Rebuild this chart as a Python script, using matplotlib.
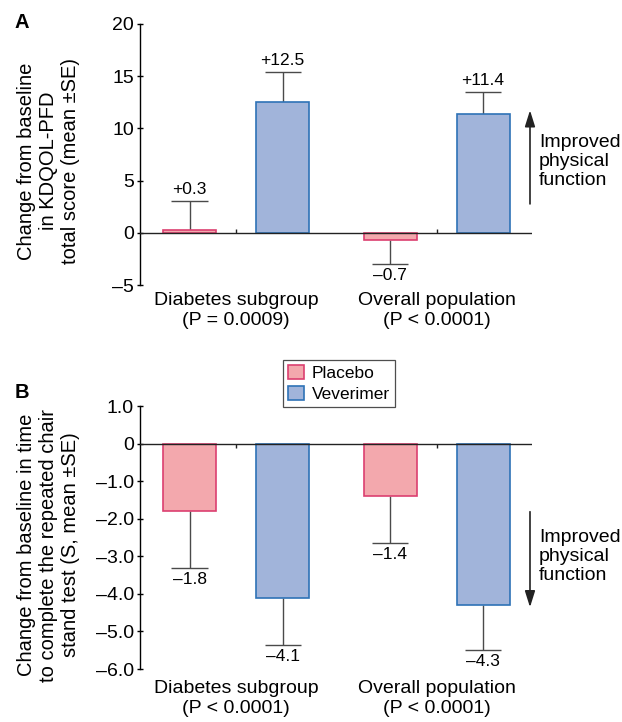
import numpy as np
import matplotlib
matplotlib.use('Agg')
import matplotlib.pyplot as plt
from matplotlib.patches import Patch

plt.rcParams['font.family'] = ['Liberation Sans', 'DejaVu Sans']
plt.rcParams['font.size'] = 14

groups_a = ['Diabetes subgroup\n(P = 0.0009)', 'Overall population\n(P < 0.0001)']
groups_b = ['Diabetes subgroup\n(P < 0.0001)', 'Overall population\n(P < 0.0001)']

# panel A: KDQOL-PFD change
placebo_a = [0.3, -0.7]
placebo_a_se = [2.75, 2.3]
veverimer_a = [12.5, 11.4]
veverimer_a_se = [2.9, 2.1]

# panel B: repeated chair stand test change
placebo_b = [-1.8, -1.4]
placebo_b_se = [1.5, 1.25]
veverimer_b = [-4.1, -4.3]
veverimer_b_se = [1.27, 1.2]

pink_fill, pink_edge = '#F3A8AD', '#DC3F70'
blue_fill, blue_edge = '#A1B4DA', '#2E72B6'
err_col = '#4a4a4a'
fs = 14
fs_val = 12.5

fig = plt.figure(figsize=(6.22, 7.22), dpi=100)

W, H = 622, 722
def px_axes(left, top, right, bottom):
    return fig.add_axes([left / W, 1 - bottom / H, (right - left) / W, (bottom - top) / H])

ax_a = px_axes(140, 24, 532, 285)
ax_b = px_axes(140, 406, 532, 669)

x = np.arange(2)
off = 0.232
width = 0.264
cap = 0.09


def draw_panel(ax, pl, pl_se, vv, vv_se, labels, ylim, yticks, yticklabels, tick_len, pad):
    for vals, ses, shift, fc, ec in [(pl, pl_se, -off, pink_fill, pink_edge),
                                     (vv, vv_se, off, blue_fill, blue_edge)]:
        xs = x + shift
        vals = np.array(vals)
        ses = np.array(ses)
        ax.bar(xs, vals, width=width, color=fc, edgecolor=ec, linewidth=1.2, zorder=3)
        sign = np.sign(vals)
        ends = vals + sign * ses
        ax.vlines(xs, vals, ends, color=err_col, lw=1, zorder=2)
        ax.hlines(ends, xs - cap, xs + cap, color=err_col, lw=1, zorder=2)
        for xi, v, e in zip(xs, vals, ends):
            if v >= 0:
                ax.annotate('+%.1f' % v, (xi, e), xytext=(0, 3), textcoords='offset points',
                            ha='center', va='bottom', fontsize=fs_val)
            else:
                ax.annotate('\u2013%.1f' % abs(v), (xi, e), xytext=(0, -3), textcoords='offset points',
                            ha='center', va='top', fontsize=fs_val)
    ax.axhline(0, color='#222222', lw=1, zorder=4)
    ax.vlines(x, 0, tick_len, color='#222222', lw=1, zorder=4)
    ax.set_xlim(-0.479, 1.476)
    ax.set_ylim(*ylim)
    ax.set_yticks(yticks)
    ax.set_yticklabels(yticklabels)
    ax.set_xticks(x)
    ax.set_xticklabels(labels, fontsize=fs)
    ax.tick_params(axis='x', length=0, pad=pad)
    ax.tick_params(axis='y', length=5, width=1, direction='inout', labelsize=fs, pad=2)
    for s in ['top', 'right', 'bottom']:
        ax.spines[s].set_visible(False)
    ax.spines['left'].set_linewidth(1)


draw_panel(ax_a, placebo_a, placebo_a_se, veverimer_a, veverimer_a_se, groups_a,
           (-5, 20), [-5, 0, 5, 10, 15, 20], ['\u20135', '0', '5', '10', '15', '20'], 0.35, 5)
draw_panel(ax_b, placebo_b, placebo_b_se, veverimer_b, veverimer_b_se, groups_b,
           (-6, 1), np.arange(-6, 1.5, 1.0),
           ['\u20136.0', '\u20135.0', '\u20134.0', '\u20133.0', '\u20132.0', '\u20131.0', '0', '1.0'], -0.13, 8)

# improvement arrows
arrow_kw = dict(arrowstyle='-|>,head_length=0.7,head_width=0.22', color='#222222', lw=1.2,
                mutation_scale=14)
ax_a.annotate('', xy=(1.466, 12.0), xytext=(1.466, 2.5), arrowprops=arrow_kw,
              annotation_clip=False)
ax_a.text(1.511, 6.8, 'Improved\nphysical\nfunction', ha='left', va='center', fontsize=fs,
          linespacing=1.15, clip_on=False)
ax_b.annotate('', xy=(1.466, -4.43), xytext=(1.466, -1.74), arrowprops=arrow_kw,
              annotation_clip=False)
ax_b.text(1.511, -3.0, 'Improved\nphysical\nfunction', ha='left', va='center', fontsize=fs,
          linespacing=1.15, clip_on=False)

# y labels
fig.text(48 / W, 1 - 161 / H, 'Change from baseline\nin KDQOL-PFD\ntotal score (mean \u00b1SE)',
         rotation=90, ha='center', va='center', multialignment='center', fontsize=14.5)
fig.text(48 / W, 1 - 545 / H,
         'Change from baseline in time\nto complete the repeated chair\nstand test (S, mean \u00b1SE)',
         rotation=90, ha='center', va='center', multialignment='center', fontsize=14.5)

fig.text(15 / W, 1 - 23 / H, 'A', fontsize=14.5, fontweight='bold', ha='left', va='center')
fig.text(15 / W, 1 - 392 / H, 'B', fontsize=14.5, fontweight='bold', ha='left', va='center')

handles = [Patch(facecolor=pink_fill, edgecolor=pink_edge, lw=1.2, label='Placebo'),
           Patch(facecolor=blue_fill, edgecolor=blue_edge, lw=1.2, label='Veverimer')]
leg = fig.legend(handles=handles, loc='upper left', bbox_to_anchor=(283 / W, 1 - 360 / H),
                 frameon=True, fancybox=False, edgecolor='#222222', fontsize=12.5,
                 handlelength=0.9, handleheight=0.85, handletextpad=0.45, borderpad=0.3,
                 labelspacing=0.3, borderaxespad=0)
leg.get_frame().set_linewidth(0.9)

fig.savefig('out.png', dpi=100)
